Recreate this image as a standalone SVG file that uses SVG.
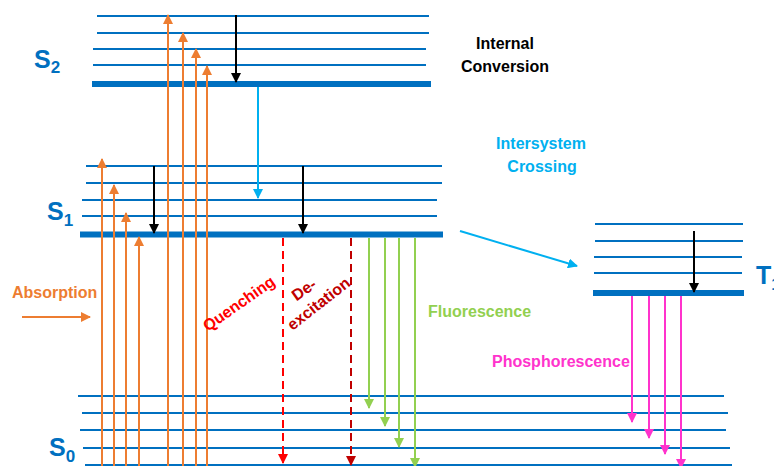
<svg xmlns="http://www.w3.org/2000/svg" width="774" height="466" viewBox="0 0 774 466">
  <style>
    .lvl { stroke: #0070c0; stroke-width: 2; fill: none; }
    .base { stroke: #0070c0; stroke-width: 6; fill: none; }
    .state { font-family: "Liberation Sans", Arial, sans-serif; font-weight: bold; fill: #0070c0; }
    .lbl { font-family: "Liberation Sans", Arial, sans-serif; font-weight: bold; font-size: 16px; }
    .abs { stroke: #ed7d31; stroke-width: 2; fill: none; marker-end: url(#hOrange); }
    .ic { stroke: #000; stroke-width: 2; fill: none; marker-end: url(#hBlack); }
    .isc { stroke: #00b0f0; stroke-width: 2; fill: none; marker-end: url(#hCyan); }
    .flu { stroke: #92d050; stroke-width: 2; fill: none; marker-end: url(#hGreen); }
    .pho { stroke: #ff33cc; stroke-width: 2; fill: none; marker-end: url(#hMagenta); }
    .que { stroke: #ff0000; stroke-width: 2; stroke-dasharray: 8 5; fill: none; marker-end: url(#hRed); }
    .dex { stroke: #c00000; stroke-width: 2; stroke-dasharray: 8 5; fill: none; marker-end: url(#hDarkRed); }
  </style>
  <defs>
    <marker id="hOrange" markerUnits="userSpaceOnUse" markerWidth="10" markerHeight="10" viewBox="0 0 10 10" refX="9" refY="5" orient="auto"><path d="M0,0 L10,5 L0,10 z" fill="#ed7d31"/></marker>
    <marker id="hBlack" markerUnits="userSpaceOnUse" markerWidth="10" markerHeight="10" viewBox="0 0 10 10" refX="9" refY="5" orient="auto"><path d="M0,0 L10,5 L0,10 z" fill="#000"/></marker>
    <marker id="hCyan" markerUnits="userSpaceOnUse" markerWidth="10" markerHeight="10" viewBox="0 0 10 10" refX="9" refY="5" orient="auto"><path d="M0,0 L10,5 L0,10 z" fill="#00b0f0"/></marker>
    <marker id="hGreen" markerUnits="userSpaceOnUse" markerWidth="10" markerHeight="10" viewBox="0 0 10 10" refX="9" refY="5" orient="auto"><path d="M0,0 L10,5 L0,10 z" fill="#92d050"/></marker>
    <marker id="hMagenta" markerUnits="userSpaceOnUse" markerWidth="10" markerHeight="10" viewBox="0 0 10 10" refX="9" refY="5" orient="auto"><path d="M0,0 L10,5 L0,10 z" fill="#ff33cc"/></marker>
    <marker id="hRed" markerUnits="userSpaceOnUse" markerWidth="10" markerHeight="10" viewBox="0 0 10 10" refX="9" refY="5" orient="auto"><path d="M0,0 L10,5 L0,10 z" fill="#ff0000"/></marker>
    <marker id="hDarkRed" markerUnits="userSpaceOnUse" markerWidth="10" markerHeight="10" viewBox="0 0 10 10" refX="9" refY="5" orient="auto"><path d="M0,0 L10,5 L0,10 z" fill="#c00000"/></marker>
  </defs>

  <!-- Second excited singlet state -->
  <g id="S2">
    <line class="lvl" x1="97" y1="16" x2="429" y2="16"/>
    <line class="lvl" x1="97" y1="33" x2="429" y2="33"/>
    <line class="lvl" x1="93" y1="49" x2="426" y2="49"/>
    <line class="lvl" x1="93" y1="65" x2="426" y2="65"/>
    <line class="base" x1="92" y1="84" x2="431" y2="84"/>
    <text class="state" x="34" y="68" font-size="25">S<tspan font-size="17" dy="5">2</tspan></text>
  </g>

  <!-- First excited singlet state -->
  <g id="S1">
    <line class="lvl" x1="86" y1="166" x2="442" y2="166"/>
    <line class="lvl" x1="86" y1="183" x2="442" y2="183"/>
    <line class="lvl" x1="82" y1="200" x2="437" y2="200"/>
    <line class="lvl" x1="82" y1="216" x2="437" y2="216"/>
    <line class="base" x1="80" y1="234.5" x2="443" y2="234.5"/>
    <text class="state" x="47" y="220" font-size="25">S<tspan font-size="17" dy="6">1</tspan></text>
  </g>

  <!-- Triplet state (label runs off the right edge) -->
  <g id="T1">
    <line class="lvl" x1="595" y1="224" x2="743" y2="224"/>
    <line class="lvl" x1="595" y1="241" x2="743" y2="241"/>
    <line class="lvl" x1="594" y1="257" x2="742" y2="257"/>
    <line class="lvl" x1="594" y1="273" x2="742" y2="273"/>
    <line class="base" x1="593" y1="293" x2="744" y2="293"/>
    <text class="state" x="756" y="284" font-size="25">T<tspan font-size="17" dy="6">1</tspan></text>
  </g>

  <!-- Ground state -->
  <g id="S0">
    <line class="lvl" x1="78" y1="396" x2="724" y2="396"/>
    <line class="lvl" x1="82" y1="413" x2="728" y2="413"/>
    <line class="lvl" x1="80" y1="430" x2="726" y2="430"/>
    <line class="lvl" x1="83" y1="448" x2="730" y2="448"/>
    <line class="lvl" x1="85" y1="465" x2="732" y2="465"/>
    <text class="state" x="49" y="456" font-size="25">S<tspan font-size="17" dy="6">0</tspan></text>
  </g>

  <!-- Transitions -->
  <g id="connectors">
    <!-- absorption to S2 -->
    <line class="abs" x1="168" y1="466" x2="168" y2="15"/>
    <line class="abs" x1="183" y1="466" x2="183" y2="33"/>
    <line class="abs" x1="196" y1="466" x2="196" y2="49"/>
    <line class="abs" x1="207" y1="466" x2="207" y2="66"/>
    <!-- absorption to S1 -->
    <line class="abs" x1="102" y1="466" x2="102" y2="159"/>
    <line class="abs" x1="114" y1="466" x2="114" y2="185"/>
    <line class="abs" x1="126" y1="466" x2="126" y2="213"/>
    <line class="abs" x1="139" y1="466" x2="139" y2="237"/>
    <line class="abs" x1="22" y1="317" x2="90" y2="317"/>
    <!-- internal conversion -->
    <line class="ic" x1="236" y1="15" x2="236" y2="82"/>
    <line class="ic" x1="154" y1="166" x2="154" y2="233"/>
    <line class="ic" x1="303" y1="166" x2="303" y2="233"/>
    <line class="ic" x1="694" y1="231" x2="694" y2="292"/>
    <!-- intersystem crossing -->
    <line class="isc" x1="258" y1="87" x2="258" y2="198"/>
    <line class="isc" x1="460" y1="231" x2="577" y2="266"/>
    <!-- non-radiative decay -->
    <line class="que" x1="283" y1="238" x2="283" y2="463"/>
    <line class="dex" x1="351" y1="238" x2="351" y2="465"/>
    <!-- fluorescence -->
    <line class="flu" x1="369" y1="238" x2="369" y2="408"/>
    <line class="flu" x1="385" y1="238" x2="385" y2="426"/>
    <line class="flu" x1="399" y1="238" x2="399" y2="447"/>
    <line class="flu" x1="415" y1="238" x2="415" y2="467"/>
    <!-- phosphorescence -->
    <line class="pho" x1="632" y1="296" x2="632" y2="422"/>
    <line class="pho" x1="649" y1="296" x2="649" y2="438"/>
    <line class="pho" x1="665" y1="296" x2="665" y2="454"/>
    <line class="pho" x1="681" y1="296" x2="681" y2="468"/>
  </g>

  <!-- Process labels -->
  <g id="labels">
    <text class="lbl" x="505" y="49" text-anchor="middle" fill="#000">Internal</text>
    <text class="lbl" x="505" y="72" text-anchor="middle" fill="#000">Conversion</text>
    <text class="lbl" x="541" y="149" text-anchor="middle" fill="#00b0f0">Intersystem</text>
    <text class="lbl" x="542" y="172" text-anchor="middle" fill="#00b0f0">Crossing</text>
    <text class="lbl" x="12" y="298" fill="#ed7d31">Absorption</text>
    <text class="lbl" x="428" y="317" font-size="15.5" fill="#92d050">Fluorescence</text>
    <text class="lbl" x="492" y="367" font-size="15.5" fill="#ff33cc">Phosphorescence</text>
    <text class="lbl" font-size="13" text-anchor="middle" fill="#ff0000" transform="translate(242 308) rotate(-35)">Quenching</text>
    <text class="lbl" font-size="13" text-anchor="middle" fill="#c00000" transform="translate(307 294) rotate(-35)">De-</text>
    <text class="lbl" font-size="13" text-anchor="middle" fill="#c00000" transform="translate(322 308) rotate(-38)">excitation</text>
  </g>
</svg>
